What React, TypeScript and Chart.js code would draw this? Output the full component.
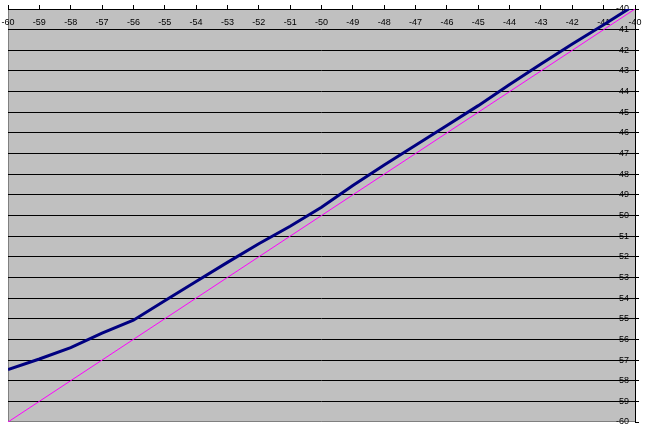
import React, { useEffect, useRef } from "react";
import { Chart, registerables } from "chart.js";

Chart.register(...registerables);

// X positions (degrees) along the top axis
const xValues = [-60, -59, -58, -57, -56, -55, -54, -53, -52, -51, -50, -49, -48, -47, -46, -45, -44, -43, -42, -41, -40];
// Measured curve (navy)
const measuredValues = [-57.46, -56.95, -56.4, -55.7, -55.07, -54.13, -53.2, -52.27, -51.37, -50.52, -49.6, -48.55, -47.55, -46.6, -45.64, -44.68, -43.66, -42.66, -41.69, -40.76, -39.8];
// Ideal 1:1 line (magenta)
const idealValues = [-60, -59, -58, -57, -56, -55, -54, -53, -52, -51, -50, -49, -48, -47, -46, -45, -44, -43, -42, -41, -40];

const axisMin = -60;
const axisMax = -40;

const plotBg = {
  id: "plotBg",
  beforeDraw(chart: any) {
    const { ctx, chartArea } = chart;
    const { left, top, right, bottom } = chartArea;
    ctx.save();
    ctx.fillStyle = "#C0C0C0";
    ctx.fillRect(left, top, right - left, bottom - top);
    ctx.strokeStyle = "#808080";
    ctx.lineWidth = 1;
    ctx.beginPath();
    ctx.moveTo(left + 0.5, top);
    ctx.lineTo(left + 0.5, bottom - 0.5);
    ctx.lineTo(right, bottom - 0.5);
    ctx.stroke();
    ctx.restore();
  },
};

export default function App() {
  const ref = useRef<HTMLCanvasElement | null>(null);

  useEffect(() => {
    if (!ref.current) return;
    const font = { family: "'Liberation Sans', Arial, sans-serif", size: 9 };
    const chart = new Chart(ref.current, {
      type: "line",
      data: {
        datasets: [
          {
            label: "ideal",
            data: xValues.map((x, i) => ({ x, y: idealValues[i] })),
            borderColor: "#FF00FF",
            borderWidth: 1,
            pointRadius: 0,
            tension: 0,
            order: 2,
          },
          {
            label: "measured",
            data: xValues.map((x, i) => ({ x, y: measuredValues[i] })),
            borderColor: "#000080",
            borderWidth: 3,
            pointRadius: 0,
            tension: 0,
            clip: 0,
            order: 1,
          },
        ],
      },
      options: {
        responsive: false,
        animation: false,
        events: [],
        layout: { padding: { left: 8, top: 5, right: 0, bottom: 11 } },
        plugins: { legend: { display: false }, tooltip: { enabled: false }, title: { display: false } },
        scales: {
          x: {
            type: "linear",
            position: "top",
            min: axisMin,
            max: axisMax,
            afterFit: (scale: any) => {
              scale.height = 4;
              scale.paddingLeft = 0;
              scale.paddingRight = 0;
            },
            border: { display: true, color: "#000000", width: 1 },
            grid: {
              drawOnChartArea: false,
              drawTicks: true,
              tickLength: 4,
              tickColor: "#000000",
              color: "#000000",
            },
            ticks: {
              stepSize: 1,
              mirror: true,
              padding: 8,
              autoSkip: false,
              maxRotation: 0,
              color: "#000000",
              font,
            },
          },
          y: {
            type: "linear",
            position: "right",
            min: axisMin,
            max: axisMax,
            afterFit: (scale: any) => {
              scale.width = 12;
              scale.paddingTop = 0;
              scale.paddingBottom = 0;
            },
            border: { display: true, color: "#000000", width: 1 },
            grid: {
              drawOnChartArea: true,
              drawTicks: true,
              tickLength: 4,
              tickColor: "#000000",
              color: (ctx: any) => (ctx.tick && ctx.tick.value === axisMin ? "rgba(0,0,0,0)" : "#000000"),
              lineWidth: 1,
            },
            ticks: {
              stepSize: 1,
              mirror: true,
              padding: -6,
              autoSkip: false,
              color: "#000000",
              font,
            },
          },
        },
      },
      plugins: [plotBg],
    } as any);
    return () => chart.destroy();
  }, []);

  return (
    <div style={{ position: "absolute", left: 0, top: 0, width: 647, height: 433, background: "#FFFFFF" }}>
      <canvas ref={ref} width={647} height={433} style={{ display: "block" }} />
    </div>
  );
}
